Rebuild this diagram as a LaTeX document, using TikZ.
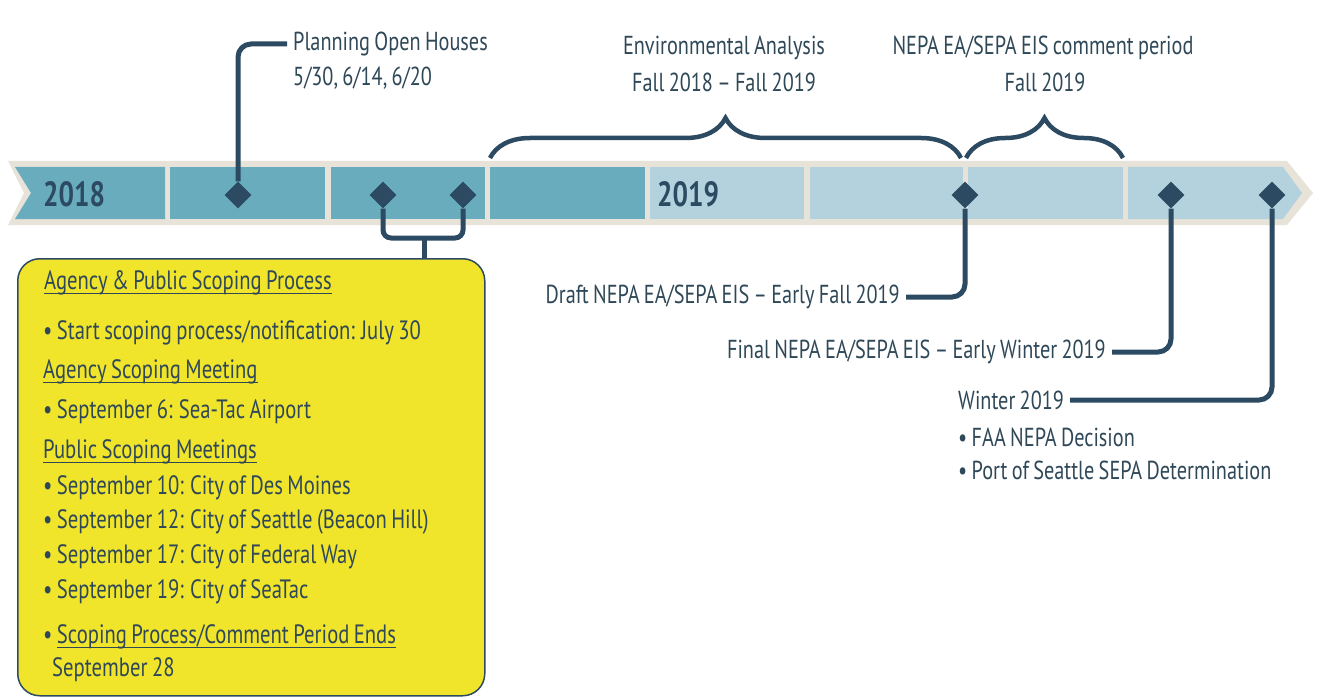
\documentclass[tikz,border=0pt]{standalone}
\usepackage{fontspec}
\setmainfont{PT Sans}[FakeStretch=0.78, WordSpace=0.8]
\usetikzlibrary{shapes.geometric, decorations.pathreplacing}

\definecolor{navy}{HTML}{2C4A62}
\definecolor{txtnavy}{HTML}{2F4858}
\definecolor{band}{HTML}{69ACBE}
\definecolor{pale}{HTML}{B4D2DD}
\definecolor{rim}{HTML}{E8E3D8}
\definecolor{boxyellow}{HTML}{F1E52B}

\newsavebox\undlbox
\newcommand{\undl}[1]{\sbox\undlbox{#1}\rlap{\rule[-4.5pt]{\wd\undlbox}{1.6pt}}\usebox\undlbox}

\begin{document}
\begin{tikzpicture}[x=1pt, y=-1pt,
    conn/.style={line width=5pt, color=navy, rounded corners=13pt},
    ms/.style={diamond, fill=navy, minimum size=27pt, inner sep=0pt},
    year/.style={text=navy, font=\fontsize{35}{40}\selectfont\bfseries, inner sep=0pt},
    lbl/.style={text=txtnavy, font=\fontsize{26}{30}\selectfont, inner sep=6pt},
    boxtxt/.style={text=txtnavy, font=\fontsize{26.5}{30}\selectfont, anchor=west, inner sep=0pt},
    scopebox/.style={draw=navy, line width=1.5pt, fill=boxyellow, rounded corners=22pt},
    bracket/.style={decorate, decoration={brace, amplitude=40pt}, line width=4.5pt, color=navy}]

    \fill [white] (0, 0) rectangle (1318, 698);
    \useasboundingbox (0, 0) rectangle (1318, 698);

    % timeline band
    \fill [rim] (8, 161) -- (1287, 161) -- (1313, 193) -- (1287, 225) -- (8, 225) -- (24, 193) -- cycle;
    \fill [band] (15, 167) -- (165, 167) -- (165, 219) -- (15, 219) -- (31, 193) -- cycle;
    \fill [band] (170, 167) rectangle (325, 219);
    \fill [band] (331, 167) rectangle (485, 219);
    \fill [band] (490, 167) rectangle (645, 219);
    \fill [pale] (650, 167) rectangle (804, 219);
    \fill [pale] (810, 167) rectangle (963, 219);
    \fill [pale] (968, 167) rectangle (1123, 219);
    \fill [pale] (1128, 167) -- (1283, 167) -- (1302, 193) -- (1283, 219) -- (1128, 219) -- cycle;

    \node [year, anchor=base west] (y2018) at (43, 207) {2018};
    \node [year, anchor=base west] (y2019) at (657, 207) {2019};

    % milestones
    \node [ms] (d1) at (238, 195) {};
    \node [ms] (d2) at (383, 195) {};
    \node [ms] (d3) at (463, 195) {};
    \node [ms] (d4) at (965, 195) {};
    \node [ms] (d5) at (1171, 195) {};
    \node [ms] (d6) at (1272, 195) {};

    % labels above
    \node [lbl, anchor=west] (open) at (287, 44) {Planning Open Houses};
    \node [lbl, anchor=west] (opendates) at (287, 78) {5/30, 6/14, 6/20};
    \node [lbl] (env) at (724, 48) {Environmental Analysis};
    \node [lbl] (envdates) at (724, 82) {Fall 2018 – Fall 2019};
    \node [lbl] (comment) at (1043, 48) {NEPA EA/SEPA EIS comment period};
    \node [lbl] (commentdates) at (1045, 82) {Fall 2019};

    \draw [conn] (d1.north) |- (open.west);
    \draw [bracket] (490, 158) -- (961, 158);
    \draw [bracket] (966, 158) -- (1123, 158);

    % labels below
    \node [lbl, anchor=east] (draft) at (906, 297) {Draft NEPA EA/SEPA EIS – Early Fall 2019};
    \node [lbl, anchor=east] (final) at (1112, 352) {Final NEPA EA/SEPA EIS – Early Winter 2019};
    \node [lbl, anchor=west] (winter) at (952, 400) {Winter 2019};
    \node [lbl, anchor=west] (faa) at (952, 437) {•\,FAA NEPA Decision};
    \node [lbl, anchor=west] (port) at (952, 470) {•\,Port of Seattle SEPA Determination};

    \draw [conn] (d4.south) |- (draft.east);
    \draw [conn] (d5.south) |- (final.east);
    \draw [conn] (d6.south) |- (winter.east);

    % scoping box
    \node [scopebox, anchor=north west, minimum width=467pt, minimum height=437pt] (box) at (17, 258) {};
    \coordinate (join) at (424, 238);
    \draw [conn, rounded corners=8pt] (d2.south) |- (join) -| (d3.south);
    \draw [conn] (join) -- (join |- box.north);

    \node [boxtxt] (s1) at (44, 283) {\undl{Agency \& Public Scoping Process}};
    \node [boxtxt] (s2) at (43, 333) {•\,Start scoping process/notification: July 30};
    \node [boxtxt] (s3) at (43, 372) {\undl{Agency Scoping Meeting}};
    \node [boxtxt] (s4) at (43, 412) {•\,September 6: Sea-Tac Airport};
    \node [boxtxt] (s5) at (43, 452) {\undl{Public Scoping Meetings}};
    \node [boxtxt] (s6) at (43, 488) {•\,September 10: City of Des Moines};
    \node [boxtxt] (s7) at (43, 522) {•\,September 12: City of Seattle (Beacon Hill)};
    \node [boxtxt] (s8) at (43, 557) {•\,September 17: City of Federal Way};
    \node [boxtxt] (s9) at (43, 592) {•\,September 19: City of SeaTac};
    \node [boxtxt] (s10) at (43, 637) {•\,\undl{Scoping Process/Comment Period Ends}};
    \node [boxtxt] (s11) at (52, 670) {September 28};

  \end{tikzpicture}
\end{document}
